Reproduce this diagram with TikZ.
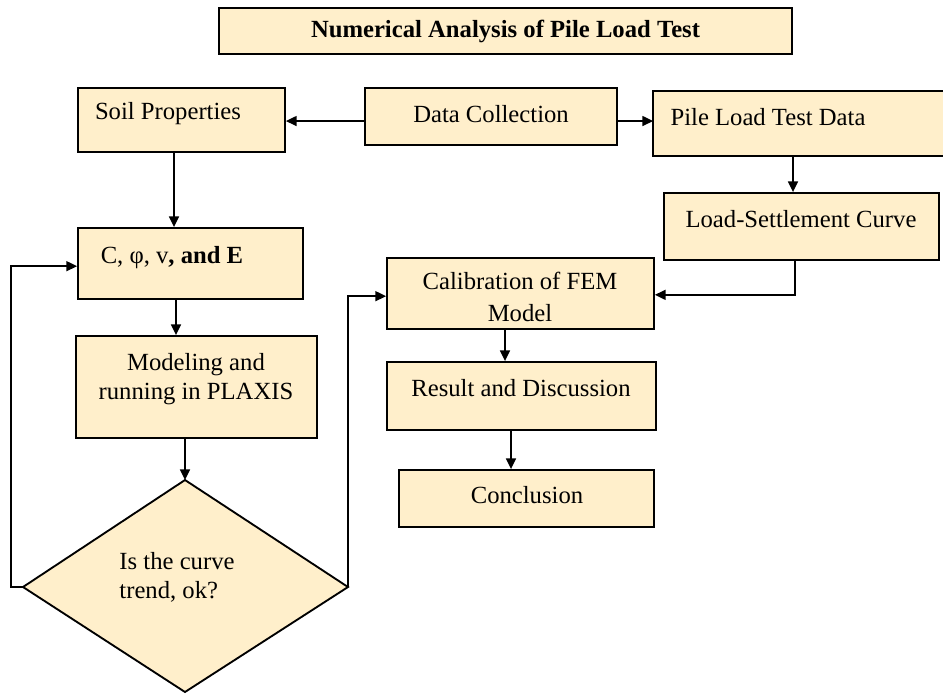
\documentclass[tikz,border=0pt]{standalone}
\usepackage{fontspec}
\setmainfont{Liberation Serif}
\usetikzlibrary{arrows.meta}
\definecolor{boxfill}{HTML}{FFEFCB}
\tikzset{
  box/.style={draw=black, line width=1.4pt, fill=boxfill, inner sep=0pt},
  txt/.style={inner sep=0pt, align=center, font=\fontsize{18.5pt}{22pt}\selectfont},
  arr/.style={line width=1.1pt, -{Triangle[length=8pt,width=7.5pt]}},
}
\begin{document}
\begin{tikzpicture}[x=0.75pt,y=-0.75pt]
\useasboundingbox (0,0) rectangle (943,694);
\fill[white] (0,0) rectangle (943,694);
% boxes
\node[box, minimum width=573*0.75pt, minimum height=46*0.75pt] (title) at (505.5,31) {};
\node[box, minimum width=207*0.75pt, minimum height=64*0.75pt] (soil) at (181.5,120) {};
\node[box, minimum width=252*0.75pt, minimum height=57*0.75pt] (data) at (491,116.5) {};
\node[box, draw=none, minimum width=300*0.75pt, minimum height=63*0.75pt] (pile) at (804,123.5) {};
\draw[line width=1.4pt] (pile.north east) -- (pile.north west) -- (pile.south west) -- (pile.south east);
\node[box, minimum width=275*0.75pt, minimum height=67*0.75pt] (lsc) at (801.5,226.5) {};
\node[box, minimum width=225*0.75pt, minimum height=71*0.75pt] (c) at (190.5,263.5) {};
\node[box, minimum width=241*0.75pt, minimum height=102*0.75pt] (mod) at (196.5,387) {};
\node[box, minimum width=267*0.75pt, minimum height=71*0.75pt] (cal) at (520.5,293.5) {};
\node[box, minimum width=269*0.75pt, minimum height=68*0.75pt] (res) at (521.5,396) {};
\node[box, minimum width=255*0.75pt, minimum height=57*0.75pt] (con) at (526.5,498.5) {};
% diamond
\coordinate (dt) at (185,480);
\coordinate (dl) at (23,587);
\coordinate (dr) at (348,587);
\coordinate (db) at (185,692);
\draw[box] (dt) -- (dr) -- (db) -- (dl) -- cycle;
% texts
\node[txt, font=\fontsize{18.5pt}{22pt}\selectfont\bfseries] (titleT) at (505.5,31) {Numerical Analysis of Pile Load Test};
\node[txt] (soilT) at (168,114) {Soil Properties};
\node[txt] (dataT) at (491,114) {Data Collection};
\node[txt] (pileT) at (768,117) {Pile Load Test Data};
\node[txt] (lscT) at (801,219) {Load-Settlement Curve};
\node[txt] (cT) at (172,258) {C, φ, v\textbf{, and E}};
\node[txt, font=\fontsize{18.5pt}{22pt}\selectfont] (modT) at (196,379) {Modeling and\\running in PLAXIS};
\node[txt, align=left] (dT) at (177,577) {Is the curve\\trend, ok?};
\node[txt, font=\fontsize{18.5pt}{24pt}\selectfont] (calT) at (520,297) {Calibration of FEM\\Model};
\node[txt] (resT) at (521,388) {Result and Discussion};
\node[txt] (conT) at (527,495) {Conclusion};
% connectors
\draw[arr] ([yshift=-3.4pt]data.west) -- ([yshift=-3.4pt]data.west -| soil.east);
\draw[arr] ([yshift=-3.4pt]data.east) -- ([yshift=-3.4pt]data.east -| pile.west);
\draw[arr] (soil.south -| 174,0) -- (c.north -| 174,0);
\draw[arr] (pile.south -| 793,0) -- (lsc.north -| 793,0);
\draw[arr] (lsc.south -| 795,0) |- ([yshift=-1pt]cal.east);
\draw[arr] (c.south -| 176,0) -- (mod.north -| 176,0);
\draw[arr] (mod.south -| 185,0) -- (dt);
\draw[arr] (dl) -- (11,587) |- ([yshift=-2pt]c.west);
\draw[arr] (dr) -- (348,587) |- ([yshift=-2pt]cal.west);
\draw[arr] (cal.south -| 505,0) -- (res.north -| 505,0);
\draw[arr] (res.south -| 511,0) -- (con.north -| 511,0);
\end{tikzpicture}
\end{document}
